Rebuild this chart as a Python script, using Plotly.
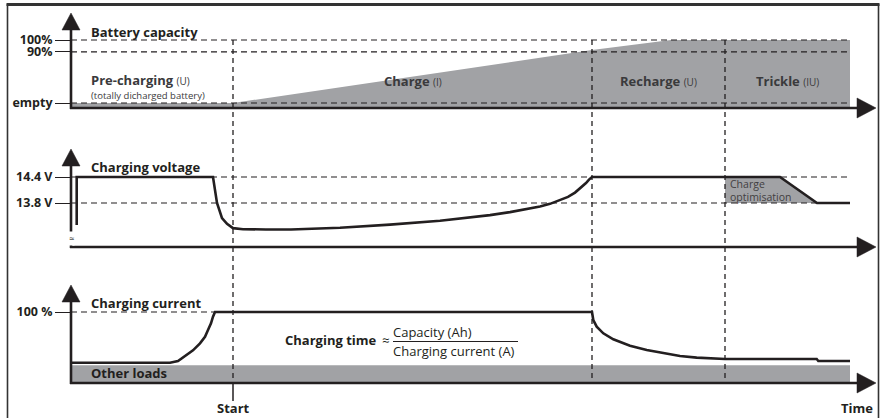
import plotly.graph_objects as go

W, H = 884, 418
FONT = "Open Sans"
INK = "#231f20"
GREY = "#a1a2a5"
TXT2 = "#3a3a3c"

# ---------------- data ----------------
phase_names = ["Pre-charging", "Charge", "Recharge", "Trickle"]
phase_modes = ["(U)", "(I)", "(U)", "(IU)"]
phase_start = [0.0, 16.2, 52.1, 65.4]          # time (arbitrary units)
t_end = 77.9
precharge_note = "(totally dicharged battery)"

cap_tick_vals = [0, 81, 100]
cap_tick_text = ["empty", "90%", "100%"]
cap_t = [0.0, 16.2, 52.1, 60.0, 77.9]
cap_level = [0, 0, 84, 100, 100]

volt_tick_vals = [13.8, 14.4]
volt_tick_text = ["13.8 V", "14.4 V"]
volt_t = [0.57, 0.57, 14.2, 14.4, 14.6, 15.1, 15.6, 16.2, 17.2, 19.5, 22.0, 26.9,
          31.9, 36.9, 41.9, 43.9, 45.4, 46.9, 47.9, 48.9, 49.7, 50.4, 51.0, 51.5,
          51.8, 52.0, 52.1, 70.9, 74.6, 77.9]
volt_v = [13.29, 14.4, 14.4, 14.1, 13.8, 13.45, 13.32, 13.22, 13.195, 13.19, 13.19, 13.23,
          13.30, 13.39, 13.52, 13.59, 13.65, 13.72, 13.78, 13.86, 13.94, 14.04, 14.15, 14.26,
          14.34, 14.39, 14.4, 14.4, 13.8, 13.8]
opt_t = [65.4, 70.9, 74.6]      # charge optimisation: start, ramp start, ramp end
opt_v = [14.4, 13.8]

cur_tick_vals = [100]
cur_tick_text = ["100 %"]
cur_t = [0.0, 9.9, 10.7, 11.6, 12.2, 12.9, 13.4, 13.7, 14.0, 14.2, 14.4,
         52.1, 52.23, 52.57, 53.23, 54.23, 55.9, 57.57, 59.23, 60.9, 62.57, 64.23,
         65.4, 74.57, 74.73, 77.9]
cur_v = [28.5, 28.5, 31, 39.4, 46, 55.9, 65, 74.6, 84, 93.4, 100,
         100, 88.7, 79.3, 70, 61.5, 52.6, 46.5, 41.8, 38.0, 35.7, 34.3,
         33.8, 33.8, 31.0, 31.0]
other_loads = 25

# ---------------- layout calibration ----------------
X0_PX, PX_PER_T = 71, 10.0


def t_at(px):
    return (px - X0_PX) / PX_PER_T


def xp(px):
    return px / W


def yp(py):
    return 1 - py / H


panels = {  # value1, py1, value2, py2
    "y": (0, 103, 100, 40),
    "y2": (14.4, 177, 13.8, 203),
    "y3": (0, 383, 100, 312),
}


def k_of(p):
    v1, py1, v2, py2 = panels[p]
    return (v2 - v1) / (py1 - py2)


def v_at(p, py):
    v1, py1, _, _ = panels[p]
    return v1 + (py1 - py) * k_of(p)


def yrange(p):
    return [v_at(p, H), v_at(p, 0)]


fig = go.Figure()

# capacity fill
cap_floor = v_at("y", 108)
fig.add_trace(go.Scatter(x=[cap_t[0], cap_t[-1]], y=[cap_floor, cap_floor], mode="lines",
                         line=dict(width=0), hoverinfo="skip", showlegend=False, yaxis="y"))
fig.add_trace(go.Scatter(x=cap_t, y=cap_level, mode="lines", fill="tonexty", fillcolor=GREY,
                         line=dict(width=0, color=GREY), hoverinfo="skip", showlegend=False, yaxis="y"))

# charge optimisation area
fig.add_trace(go.Scatter(x=[opt_t[0], opt_t[1], opt_t[2], opt_t[0]],
                         y=[opt_v[0], opt_v[0], opt_v[1], opt_v[1]],
                         mode="lines", fill="toself", fillcolor=GREY, line=dict(width=0),
                         hoverinfo="skip", showlegend=False, yaxis="y2"))

# other loads band
fig.add_trace(go.Scatter(x=[0, t_end], y=[other_loads, other_loads], mode="lines", fill="tozeroy",
                         fillcolor=GREY, line=dict(width=0, color=GREY),
                         hoverinfo="skip", showlegend=False, yaxis="y3"))

# voltage & current curves
fig.add_trace(go.Scatter(x=volt_t, y=volt_v, mode="lines", line=dict(color=INK, width=2.6),
                         hoverinfo="skip", showlegend=False, yaxis="y2"))
fig.add_trace(go.Scatter(x=cur_t, y=cur_v, mode="lines", line=dict(color=INK, width=2.6),
                         hoverinfo="skip", showlegend=False, yaxis="y3"))

shapes = []
DASH = "6px,4px"

# horizontal dashed guide lines
for v in cap_tick_vals:
    shapes.append(dict(type="line", xref="x", yref="y", x0=0, x1=t_end, y0=v, y1=v,
                       line=dict(color=INK, width=1.2, dash=DASH), layer="above"))
for v in volt_tick_vals:
    shapes.append(dict(type="line", xref="x", yref="y2", x0=0, x1=t_end, y0=v, y1=v,
                       line=dict(color=INK, width=1.2, dash=DASH), layer="above"))
shapes.append(dict(type="line", xref="x", yref="y3", x0=0, x1=cur_t[10], y0=100, y1=100,
                   line=dict(color=INK, width=1.2, dash=DASH), layer="above"))

# vertical dashed phase boundaries
for ts in phase_start[1:]:
    shapes.append(dict(type="line", xref="x", yref="paper", x0=ts, x1=ts, y0=yp(40), y1=yp(383),
                       line=dict(color=INK, width=1.3, dash="5px,4px"), layer="above"))
# start tick
shapes.append(dict(type="line", xref="x", yref="paper", x0=phase_start[1], x1=phase_start[1],
                   y0=yp(383), y1=yp(401), line=dict(color=INK, width=1.5), layer="above"))

# axes with arrows
AX_W = 2.6
axes_px = [(108, 13), (247, 149), (383, 285)]  # baseline py, arrow tip py
for base, tip in axes_px:
    shapes.append(dict(type="line", xref="paper", yref="paper", x0=xp(X0_PX), x1=xp(X0_PX),
                       y0=yp(base + 1), y1=yp(tip + 10), line=dict(color=INK, width=AX_W), layer="above"))
    shapes.append(dict(type="line", xref="paper", yref="paper", x0=xp(X0_PX - 1), x1=xp(862),
                       y0=yp(base), y1=yp(base), line=dict(color=INK, width=AX_W), layer="above"))
    up = "M {},{} L {},{} L {},{} Z".format(xp(X0_PX - 9), yp(tip + 17), xp(X0_PX), yp(tip),
                                            xp(X0_PX + 9), yp(tip + 17))
    shapes.append(dict(type="path", xref="paper", yref="paper", path=up, fillcolor=INK,
                       line=dict(color=INK, width=0.5), layer="above"))
    right = "M {},{} L {},{} L {},{} Z".format(xp(857), yp(base - 10), xp(876), yp(base),
                                               xp(857), yp(base + 10))
    shapes.append(dict(type="path", xref="paper", yref="paper", path=right, fillcolor=INK,
                       line=dict(color=INK, width=0.5), layer="above"))

# fraction bar
shapes.append(dict(type="line", xref="paper", yref="paper", x0=xp(393), x1=xp(518),
                   y0=yp(341.5), y1=yp(341.5), line=dict(color=INK, width=1.2), layer="above"))

# frame
shapes.append(dict(type="line", xref="paper", yref="paper", x0=xp(6.5), x1=xp(879.5), y0=yp(4.5), y1=yp(4.5),
                   line=dict(color="#333333", width=3), layer="above"))
shapes.append(dict(type="line", xref="paper", yref="paper", x0=xp(7.5), x1=xp(7.5), y0=yp(4), y1=yp(420),
                   line=dict(color="#333333", width=1.6), layer="above"))
shapes.append(dict(type="line", xref="paper", yref="paper", x0=xp(878.5), x1=xp(878.5), y0=yp(4), y1=yp(420),
                   line=dict(color="#333333", width=1.6), layer="above"))

ann = []


def text(x, y, s, size=13, xanchor="left", color=INK, xref="paper", bg=None):
    d = dict(x=x, y=y, xref=xref, yref="paper", text=s, showarrow=False, xanchor=xanchor,
             yanchor="middle", font=dict(family=FONT, size=size, color=color))
    if bg:
        d["bgcolor"] = bg
        d["borderpad"] = 0
    ann.append(d)


text(xp(89), yp(32), "<b>Battery capacity</b>")
text(xp(89), yp(167), "<b>Charging voltage</b>")
text(xp(89), yp(303), "<b>Charging current</b>")
text(xp(89), yp(373), "<b>Other loads</b>")

# phase labels
text(xp(89), yp(80), "<b>{}</b> <span style='font-size:10px'>{}</span>".format(phase_names[0], phase_modes[0]),
     color=TXT2)
text(xp(89), yp(95), precharge_note, size=9.5, color=TXT2)
bounds = phase_start + [t_end]
for i in range(1, 4):
    mid = (bounds[i] + bounds[i + 1]) / 2
    text(mid, yp(81), "<b>{}</b> <span style='font-size:10px'>{}</span>".format(phase_names[i], phase_modes[i]),
         xanchor="center", color=TXT2, xref="x")

text(xp(728), yp(184), "Charge", size=10.5, color="#414042")
text(xp(728), yp(197), "optimisation", size=10.5, color="#414042")

text(xp(379), yp(340), "<b>Charging time</b>", xanchor="right")
text(xp(385), yp(340), "≈", xanchor="center")
text(xp(391), yp(332), "Capacity (Ah)")
text(xp(391), yp(350.5), "Charging current (A)")

text(phase_start[1], yp(408), "<b>Start</b>", xanchor="center", xref="x")
text(xp(857), yp(408), "<b>Time</b>", xanchor="center")
text(xp(X0_PX), yp(238), "≈", size=9, xanchor="center", bg="white")


def yaxis_cfg(p, vals, labels, overlay=None):
    d = dict(range=yrange(p), anchor="free", position=xp(X0_PX), side="left",
             tickmode="array", tickvals=vals, ticktext=["<b>{}</b>".format(s) for s in labels],
             ticks="outside", ticklen=16, tickwidth=1.2, tickcolor=INK,
             tickfont=dict(family=FONT, size=12.5, color=INK),
             showline=False, showgrid=False, zeroline=False, fixedrange=True)
    if overlay:
        d["overlaying"] = overlay
    return d


fig.update_layout(
    width=W, height=H, margin=dict(l=0, r=0, t=0, b=0),
    paper_bgcolor="white", plot_bgcolor="white",
    xaxis=dict(range=[t_at(0), t_at(W)], visible=False, fixedrange=True),
    yaxis=yaxis_cfg("y", cap_tick_vals, cap_tick_text),
    yaxis2=yaxis_cfg("y2", volt_tick_vals, volt_tick_text, "y"),
    yaxis3=yaxis_cfg("y3", cur_tick_vals, cur_tick_text, "y"),
    shapes=shapes, annotations=ann, showlegend=False,
)

fig.write_html("out.html", config={"displayModeBar": False},
               post_script="document.body.style.margin='0px';document.body.style.overflow='hidden';")
